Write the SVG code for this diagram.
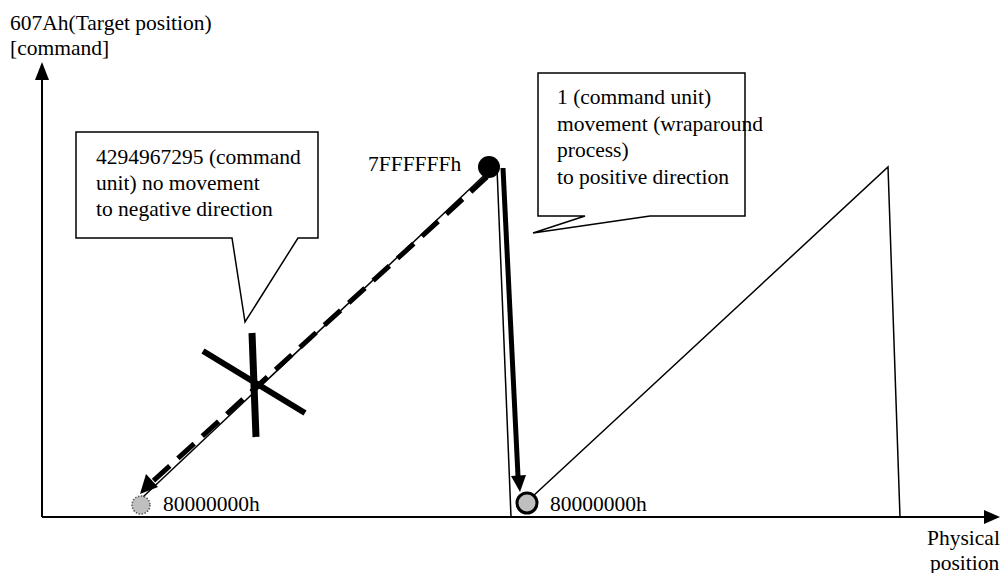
<svg xmlns="http://www.w3.org/2000/svg" width="1000" height="573" viewBox="0 0 1000 573">
<style>
text{font-family:"Liberation Serif","Times New Roman",serif;font-size:21.5px;fill:#000}
.thin{stroke:#000;stroke-width:1.5;fill:none}
.box{stroke:#000;stroke-width:1.5;fill:#fff}
</style>
<g id="axes">
<line x1="42" y1="517" x2="42" y2="80" stroke="#000" stroke-width="2"/>
<path d="M35,80 L42,62 L49,80 z" fill="#000"/>
<line x1="42" y1="517" x2="984" y2="517" stroke="#000" stroke-width="2"/>
<path d="M984,510 L1000,517 L984,524 z" fill="#000"/>
<text x="10" y="30">607Ah(Target position)</text>
<text x="10" y="55">[command]</text>
<text x="927" y="545">Physical</text>
<text x="930" y="570">position</text>
</g>
<g id="connectors">
<line class="thin" x1="143" y1="497" x2="492" y2="168"/>
<line class="thin" x1="497" y1="168" x2="511" y2="517"/>
<polyline class="thin" points="532,497 888,167 900,517"/>
<line x1="487" y1="177" x2="152" y2="482" stroke="#000" stroke-width="5" stroke-dasharray="22,11"/>
<path d="M140,494 L146,474 L158,487 z" fill="#000"/>
<line x1="503" y1="168" x2="518" y2="476" stroke="#000" stroke-width="5"/>
<path d="M511,476 L526,475 L520,492 z" fill="#000"/>
</g>
<g id="cross">
<line x1="252" y1="333" x2="256" y2="437" stroke="#000" stroke-width="7"/>
<line x1="203" y1="351" x2="305" y2="413" stroke="#000" stroke-width="6"/>
</g>
<g id="top-point">
<circle cx="489" cy="167" r="11" fill="#000"/>
<text x="368" y="171">7FFFFFFh</text>
</g>
<g id="start-point">
<circle cx="141" cy="505" r="9" fill="#bfbfbf" stroke="#555" stroke-width="1.5" stroke-dasharray="1.5,1.5"/>
<text x="163" y="511">80000000h</text>
</g>
<g id="end-point">
<circle cx="527" cy="503" r="10" fill="#bfbfbf" stroke="#000" stroke-width="3"/>
<text x="550" y="511">80000000h</text>
</g>
<g id="callout-left">
<path class="box" d="M76,132 L318,132 L318,238 L298,238 L245,322 L232,238 L76,238 z"/>
<text x="96" y="164">4294967295 (command</text>
<text x="96" y="190">unit) no movement</text>
<text x="96" y="216">to negative direction</text>
</g>
<g id="callout-right">
<path class="box" d="M538,73 L745,73 L745,216 L650,216 L533,233 L585,216 L538,216 z"/>
<text x="557" y="104">1 (command unit)</text>
<text x="557" y="131">movement (wraparound</text>
<text x="557" y="157">process)</text>
<text x="557" y="184">to positive direction</text>
</g>
</svg>
